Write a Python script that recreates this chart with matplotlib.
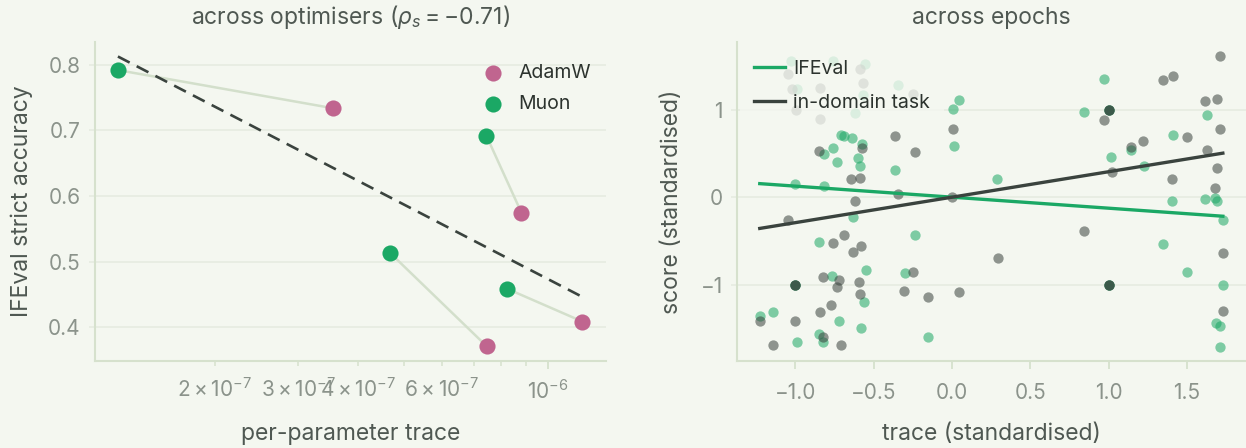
import numpy as np
import matplotlib
matplotlib.use("Agg")
import matplotlib.pyplot as plt
from matplotlib.ticker import LogFormatterSciNotation

# ---- left panel: optimiser comparison (paired runs) ----
optimisers = ["AdamW", "Muon"]
adamw_trace = [3.54e-7, 8.81e-7, 7.46e-7, 1.183e-6]
adamw_acc = [0.734, 0.575, 0.371, 0.409]
muon_trace = [1.254e-7, 7.44e-7, 4.68e-7, 8.22e-7]
muon_acc = [0.792, 0.692, 0.513, 0.459]
spearman_rho = -0.71

# ---- right panel: standardised trace vs score across epochs ----
ifeval_trace = [
    -0.712, -0.690, -0.641, -0.763, -0.818, -0.577, -0.737, -0.598, -0.590, -0.366,
    -1.000, -0.818, 0.045, 0.003, 0.011, 0.290, 0.968, 0.844, 1.628, 1.411,
    1.143, 1.017, 1.224, 1.405, 1.614, 1.678, 1.692, 1.729, 1.345, 1.503,
    1.729, 1.688, 1.714, 1.714, -0.635, -0.848, -0.552, -0.769, -0.560, -0.724,
    -0.584, -1.228, -1.142, -0.848, -0.822, -0.989, -0.301, -0.237, -0.155,
    -1.000, -1.000, 1.000, 1.000, 1.000, 1.000,
    -1.029, -0.987, -0.763, -0.556, -0.571, -0.343, -0.620,
]
ifeval_score = [
    0.715, 0.704, 0.681, 0.567, 0.498, 0.604, 0.399, 0.453, 0.361, 0.308,
    0.148, 0.129, 1.114, 1.003, 0.585, 0.202, 1.353, 0.973, 0.943, 0.707,
    0.536, 0.460, 0.357, -0.046, -0.026, -0.008, -0.046, -0.262, -0.536, -0.859,
    -1.007, -1.433, -1.467, -1.707, -0.224, -0.509, -0.832, -0.897, -1.197, -1.414,
    -1.498, -1.357, -1.307, -1.562, -1.661, -1.661, -0.866, -0.437, -1.604,
    -1.000, -1.000, 1.000, 1.000, -1.000, -1.000,
    1.554, 1.239, 1.554, 1.524, 1.163, 1.285, 0.961,
]
indomain_trace = [
    -0.848, -0.577, -0.366, -0.648, -0.590, -0.343, -0.620, 0.003, -0.237, 0.000,
    1.710, 1.345, 1.411, 1.614, 1.690, 0.968, 1.714, 1.503, 1.221, 1.143,
    1.628, 1.019, 1.692, 1.405, 1.678, 0.844, 1.729, 1.729, -1.046, -0.763,
    -0.690, -0.635, -0.584, -0.822, -0.722, -0.737, -0.595, -0.590, -0.771, -0.844,
    -1.228, -1.001, -0.827, -1.142, -0.707, -0.304, 0.292, -0.249, -0.155, 0.045,
    -1.000, -1.000, 1.000, 1.000, 1.000, 1.000,
    -1.046, -1.025, -0.997, -0.844, -0.588, -0.571, -0.251, -0.842,
]
indomain_score = [
    0.525, 0.562, 0.699, 0.202, 0.217, 0.031, -0.046, 0.775, 0.517, 0.000,
    1.608, 1.334, 1.383, 1.102, 1.121, 0.882, 0.783, 0.688, 0.639, 0.570,
    0.540, 0.285, 0.331, 0.205, 0.106, -0.388, -0.635, -1.300, -0.262, -0.521,
    -0.433, -0.623, -0.559, -0.908, -0.946, -1.022, -0.965, -1.106, -1.231, -1.315,
    -1.410, -1.418, -1.593, -1.695, -1.688, -1.068, -0.699, -0.855, -1.144, -1.087,
    -1.000, -1.000, 1.000, 1.000, -1.000, -1.000,
    1.410, 1.239, 1.000, 0.897, 1.467, 1.303, 1.182, 1.250,
]
# slopes of the standardised least-squares fits (lines pass through the origin)
ifeval_slope = -0.126
indomain_slope = 0.291

BG = "#f4f7f0"
GREEN = "#1ba865"
PINK = "#c0658f"
DARK = "#3a433e"
LINK = "#d3dfcb"
SPINE = "#d6e1cd"
GRID = "#e5eae0"
TICKLAB = "#8b938b"
LABEL = "#4f5852"
LEGTXT = "#2c332e"
FONT = "Inter"
FS_LABEL = 16.5
FS_TITLE = 16.5
FS_TICK = 15
FS_LEG = 14

plt.rcParams.update({
    "font.family": [FONT, "DejaVu Sans"],
    "mathtext.fontset": "custom",
    "mathtext.rm": FONT,
    "mathtext.it": f"{FONT}:italic",
    "mathtext.bf": f"{FONT}:bold",
    "figure.facecolor": BG,
    "axes.facecolor": BG,
    "savefig.facecolor": BG,
    "font.size": FS_TICK,
})

W, H = 1246, 448
fig = plt.figure(figsize=(W / 100, H / 100), dpi=100)
ax1 = fig.add_axes([94.7 / W, 87 / H, 510.9 / W, 319 / H])
ax2 = fig.add_axes([736.6 / W, 87 / H, 509.4 / W, 319 / H])


def style(ax, xpad):
    for side in ("top", "right"):
        ax.spines[side].set_visible(False)
    for side in ("left", "bottom"):
        ax.spines[side].set_color(SPINE)
        ax.spines[side].set_linewidth(1.5)
    ax.grid(axis="y", color=GRID, lw=1.1, zorder=0)
    ax.set_axisbelow(True)
    ax.tick_params(axis="y", which="both", color=GRID, length=4, width=1.1,
                   labelcolor=TICKLAB, labelsize=FS_TICK, pad=6)
    ax.tick_params(axis="x", which="major", color=SPINE, length=5.5, width=1.3,
                   labelcolor=TICKLAB, labelsize=FS_TICK, pad=xpad)
    ax.tick_params(axis="x", which="minor", color=SPINE, length=3.5, width=1.1,
                   labelcolor=TICKLAB, labelsize=FS_TICK, pad=xpad)


# ---- left panel ----
for xa, ya, xm, ym in zip(adamw_trace, adamw_acc, muon_trace, muon_acc):
    ax1.plot([xm, xa], [ym, ya], color=LINK, lw=1.8, zorder=1,
             solid_capstyle="round")

all_x = np.array(adamw_trace + muon_trace)
all_y = np.array(adamw_acc + muon_acc)
b, a = np.polyfit(np.log10(all_x), all_y, 1)
fit_x = np.array([all_x.min(), all_x.max()])
ax1.plot(fit_x, a + b * np.log10(fit_x), color=DARK, lw=1.9,
         ls=(0, (5, 3)), zorder=2)

ax1.scatter(adamw_trace, adamw_acc, s=135, color=PINK, linewidths=0,
            label=optimisers[0], zorder=3)
ax1.scatter(muon_trace, muon_acc, s=135, color=GREEN, linewidths=0,
            label=optimisers[1], zorder=3)
ax1.set_xscale("log")
style(ax1, xpad=8)
ax1.xaxis.set_minor_formatter(
    LogFormatterSciNotation(labelOnlyBase=False, minor_thresholds=(2, 0.4)))
ax1.set_yticks([0.4, 0.5, 0.6, 0.7, 0.8])
rho_txt = f"{spearman_rho:.2f}".replace("-", "\u2212")
ax1.set_title(f"across optimisers ($\\rho_s = {rho_txt}$)",
              color=LABEL, fontsize=FS_TITLE, pad=13)
ax1.set_xlabel("per-parameter trace", color=LABEL, fontsize=FS_LABEL)
ax1.set_ylabel("IFEval strict accuracy", color=LABEL, fontsize=FS_LABEL)
ax1.xaxis.set_label_coords(0.5, -0.195)
ax1.yaxis.set_label_coords(-0.12, 0.5)
leg1 = ax1.legend(loc="upper right", bbox_to_anchor=(0.986, 0.955),
                  frameon=False, fontsize=FS_LEG, handlelength=1.0,
                  handletextpad=0.8, labelspacing=0.68, borderaxespad=0.0)
for t in leg1.get_texts():
    t.set_color(LEGTXT)

# ---- right panel ----
ax2.scatter(ifeval_trace, ifeval_score, s=55, color=GREEN, alpha=0.55,
            linewidths=0, zorder=2)
ax2.scatter(indomain_trace, indomain_score, s=55, color=DARK, alpha=0.55,
            linewidths=0, zorder=2)
xr = np.array([min(ifeval_trace + indomain_trace),
               max(ifeval_trace + indomain_trace)])
ax2.plot(xr, ifeval_slope * xr, color=GREEN, lw=2.4, label="IFEval", zorder=3)
ax2.plot(xr, indomain_slope * xr, color=DARK, lw=2.4, label="in-domain task",
         zorder=3)
style(ax2, xpad=10.5)
xt = [-1.0, -0.5, 0.0, 0.5, 1.0, 1.5]
ax2.set_xticks(xt)
ax2.set_xticklabels([f"{v:.1f}".replace("-", "\u2212") for v in xt])
yt = [-1, 0, 1]
ax2.set_yticks(yt)
ax2.set_yticklabels([f"{v:d}".replace("-", "\u2212") for v in yt])
ax2.set_title("across epochs", color=LABEL, fontsize=FS_TITLE, pad=13)
ax2.set_xlabel("trace (standardised)", color=LABEL, fontsize=FS_LABEL)
ax2.set_ylabel("score (standardised)", color=LABEL, fontsize=FS_LABEL)
ax2.xaxis.set_label_coords(0.5, -0.195)
ax2.yaxis.set_label_coords(-0.106, 0.5)
leg2 = ax2.legend(loc="upper left", fontsize=FS_LEG, facecolor=BG,
                  edgecolor="none", framealpha=0.8, handlelength=1.6,
                  handletextpad=0.4, labelspacing=0.85, borderaxespad=0.15,
                  borderpad=0.75)
for t in leg2.get_texts():
    t.set_color(LEGTXT)

fig.savefig("out.png", dpi=100)
